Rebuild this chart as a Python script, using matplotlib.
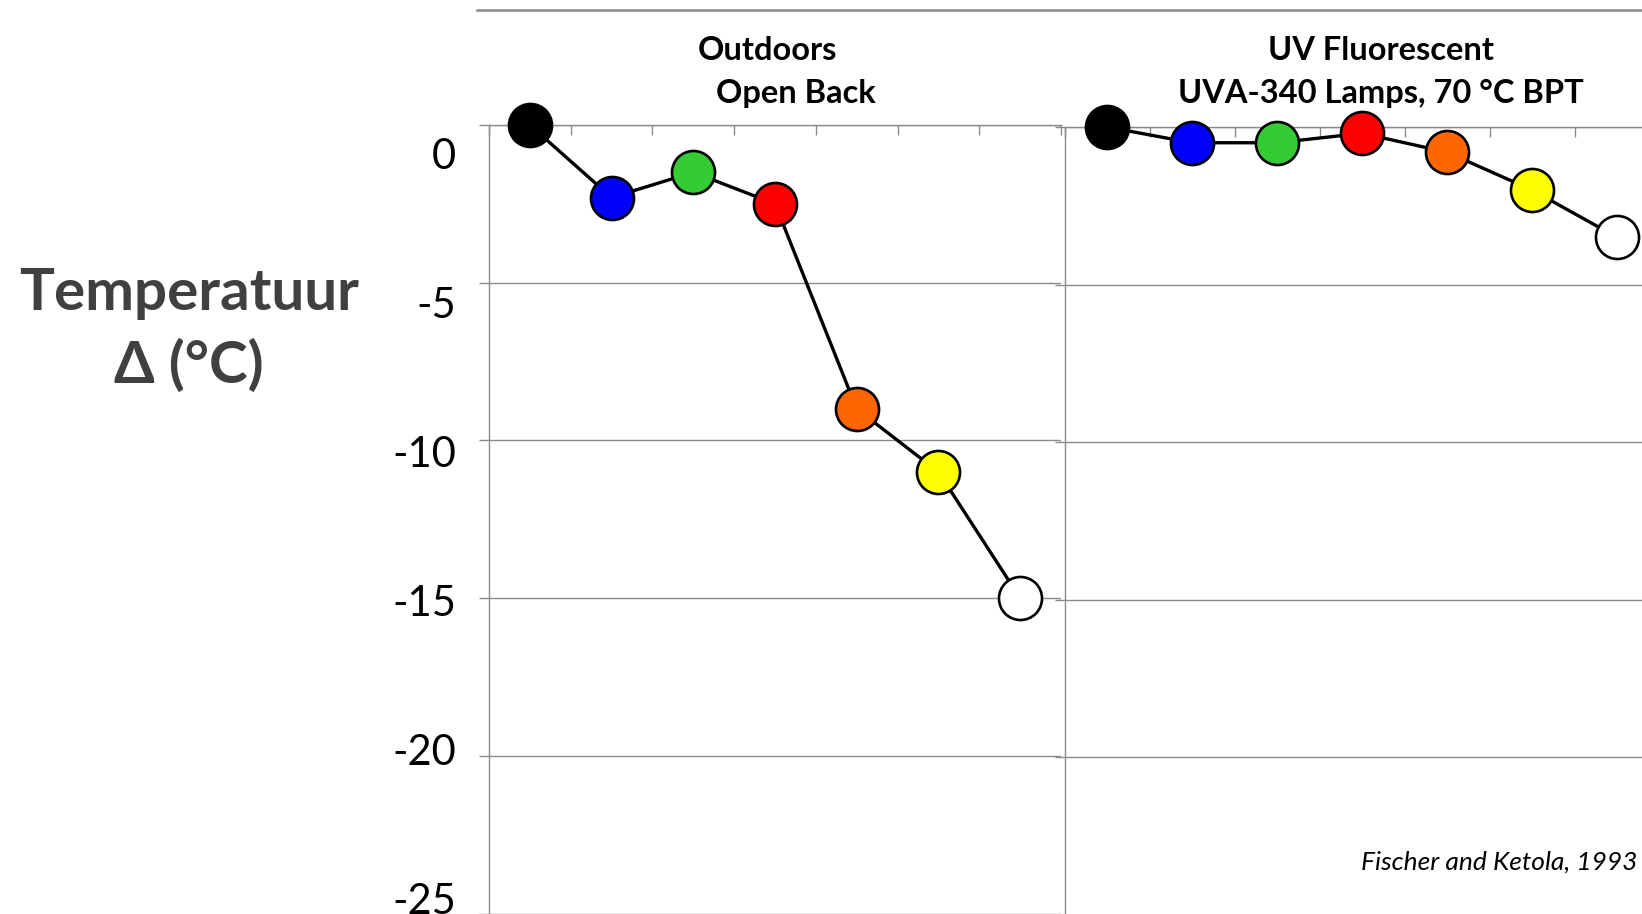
import matplotlib
matplotlib.use("Agg")
import matplotlib.pyplot as plt
from matplotlib.lines import Line2D

plt.rcParams["font.family"] = ["Lato", "DejaVu Sans"]

# -----------------------------------------------------------------------
# Data
# -----------------------------------------------------------------------
colors = ["#000000", "#0000FF", "#33CC33", "#FF0000", "#FF6600", "#FFFF00", "#FFFFFF"]
outdoor_delta = [0.0, -2.3, -1.5, -2.5, -9.0, -11.0, -15.0]
uv_delta = [0.0, -0.5, -0.5, -0.2, -0.8, -2.0, -3.5]
ytick_values = [0, -5, -10, -15, -20, -25]

W, H = 1642, 914
fig = plt.figure(figsize=(W / 100, H / 100), dpi=100)
GRAY = "#8a8a8a"


def px_rect(x0, x1, y_top, y_bot):
    return [x0 / W, 1 - y_bot / H, (x1 - x0) / W, (y_bot - y_top) / H]


def setup(ax, labels):
    n = len(colors)
    ax.set_xlim(0, n)
    ax.set_ylim(-25, 0)
    ax.set_yticks(ytick_values)
    ax.set_yticklabels([])
    ax.xaxis.set_ticks_position("top")
    ax.set_xticks([i for i in range(n + 1)])
    ax.set_xticklabels([])
    ax.tick_params(axis="x", direction="in", length=7, width=1, color=GRAY)
    ax.tick_params(axis="y", direction="out", length=7, width=1, color=GRAY)
    for s in ["right", "bottom"]:
        ax.spines[s].set_visible(False)
    for s in ["top", "left"]:
        ax.spines[s].set_color(GRAY)
        ax.spines[s].set_linewidth(1)
    ax.grid(axis="y", color=GRAY, linewidth=1)
    ax.set_axisbelow(True)
    if labels:
        # in the source the labels drift slightly off the gridlines
        tr = ax.get_yaxis_transform()
        for v in ytick_values:
            ax.text(-0.058, 0.9455 * v - 1.0, str(v), transform=tr,
                    ha="right", va="center", fontsize=30, clip_on=False)


def draw(ax, values):
    xs = [i + 0.5 for i in range(len(values))]
    ax.plot(xs, values, color="black", linewidth=2.4, zorder=3, clip_on=False)
    for x, v, c in zip(xs, values, colors):
        ax.plot(x, v, marker="o", markersize=31, markerfacecolor=c,
                markeredgecolor="black", markeredgewidth=1.9, zorder=4,
                clip_on=False)


ax1 = fig.add_axes(px_rect(489, 1061, 125, 913.5))
setup(ax1, True)
draw(ax1, outdoor_delta)

ax2 = fig.add_axes(px_rect(1064.5, 1659.5, 127, 914.5))
setup(ax2, False)
draw(ax2, uv_delta)

# top border lines
for x0, x1 in [(477, 1058), (1060, 1642)]:
    fig.add_artist(Line2D([x0 / W, x1 / W], [1 - 10 / H, 1 - 10 / H],
                          color=GRAY, linewidth=1.8))

# titles
tkw = dict(fontsize=23.5, fontweight="bold", ha="center", va="center")
fig.text(767 / W, 1 - 50 / H, "Outdoors", **tkw)
fig.text(796 / W, 1 - 94 / H, "Open Back", **tkw)
fig.text(1381 / W, 1 - 50 / H, "UV Fluorescent", **tkw)
fig.text(1381 / W, 1 - 93 / H, "UVA-340 Lamps, 70 °C BPT", **tkw)

fig.text(189 / W, 1 - 330 / H, "Temperatuur\nΔ (°C)", fontsize=42,
         fontweight="bold", color="#404040", ha="center", va="center",
         linespacing=1.4)

fig.text(1637 / W, 1 - 862 / H, "Fischer and Ketola, 1993", fontsize=19,
         style="italic", ha="right", va="center")

fig.savefig("out.png", dpi=100)
